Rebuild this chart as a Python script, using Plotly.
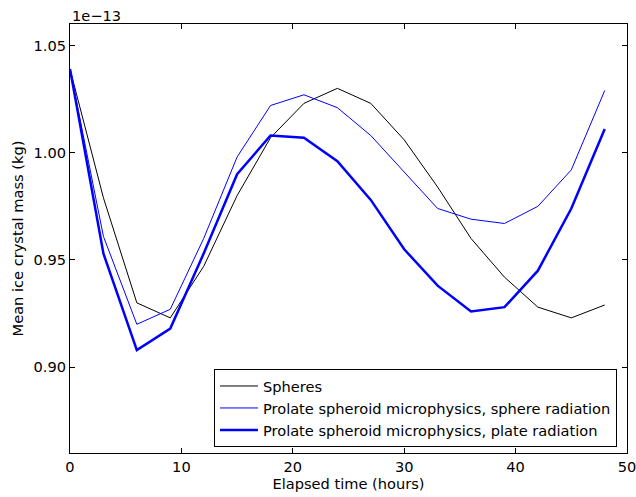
import plotly.graph_objects as go

hours = [0, 3, 6, 9, 12, 15, 18, 21, 24, 27, 30, 33, 36, 39, 42, 45, 48]
# values in units of 1e-13 kg
spheres = [1.039, 0.979, 0.930, 0.923, 0.947, 0.980, 1.007, 1.023, 1.030, 1.023, 1.006,
           0.984, 0.960, 0.942, 0.928, 0.923, 0.929]
sphere_rad = [1.039, 0.961, 0.920, 0.927, 0.960, 0.998, 1.022, 1.027, 1.021, 1.008, 0.991,
              0.974, 0.969, 0.967, 0.975, 0.992, 1.029]
plate_rad = [1.039, 0.953, 0.908, 0.918, 0.953, 0.990, 1.008, 1.007, 0.996, 0.978, 0.955,
             0.938, 0.926, 0.928, 0.945, 0.974, 1.011]
names = ["Spheres",
         "Prolate spheroid microphysics, sphere radiation",
         "Prolate spheroid microphysics, plate radiation"]

font = "DejaVu Sans"
fs = 14.6
fig = go.Figure()
fig.add_trace(go.Scatter(x=hours, y=spheres, mode="lines", name=names[0],
                         line=dict(color="black", width=1)))
fig.add_trace(go.Scatter(x=hours, y=sphere_rad, mode="lines", name=names[1],
                         line=dict(color="blue", width=1)))
fig.add_trace(go.Scatter(x=hours, y=plate_rad, mode="lines", name=names[2],
                         line=dict(color="blue", width=2.5)))

axis_common = dict(showline=True, linecolor="black", linewidth=1, mirror="ticks",
                   ticks="inside", ticklen=5, tickcolor="black", showgrid=False,
                   zeroline=False, automargin=False, ticklabeloverflow="allow",
                   tickfont=dict(family=font, size=fs, color="black"))
fig.update_xaxes(range=[0, 50], tickvals=[0, 10, 20, 30, 40, 50],
                 title=dict(text="Elapsed time (hours)", font=dict(family=font, size=fs, color="black"),
                            standoff=4),
                 **axis_common)
fig.update_yaxes(range=[0.86, 1.06], tickvals=[0.90, 0.95, 1.00, 1.05], tickformat=".2f",
                 title=dict(text="Mean ice crystal mass (kg)", font=dict(family=font, size=fs, color="black"),
                            standoff=6),
                 **axis_common)
fig.add_annotation(text="1e\u221213", xref="paper", yref="paper", x=0, y=1,
                   xanchor="left", yanchor="bottom", showarrow=False,
                   font=dict(family=font, size=fs, color="black"), yshift=-2)
fig.update_layout(
    width=636, height=497,
    margin=dict(l=70, r=9, t=24, b=44),
    paper_bgcolor="white", plot_bgcolor="white",
    font=dict(family=font, size=fs, color="black"),
    showlegend=True,
    legend=dict(x=0.982, y=0.014, xanchor="right", yanchor="bottom",
                bordercolor="black", borderwidth=1, bgcolor="white",
                font=dict(family=font, size=fs, color="black"),
                itemwidth=38, tracegroupgap=0),
)
fig.write_html("out.html")
